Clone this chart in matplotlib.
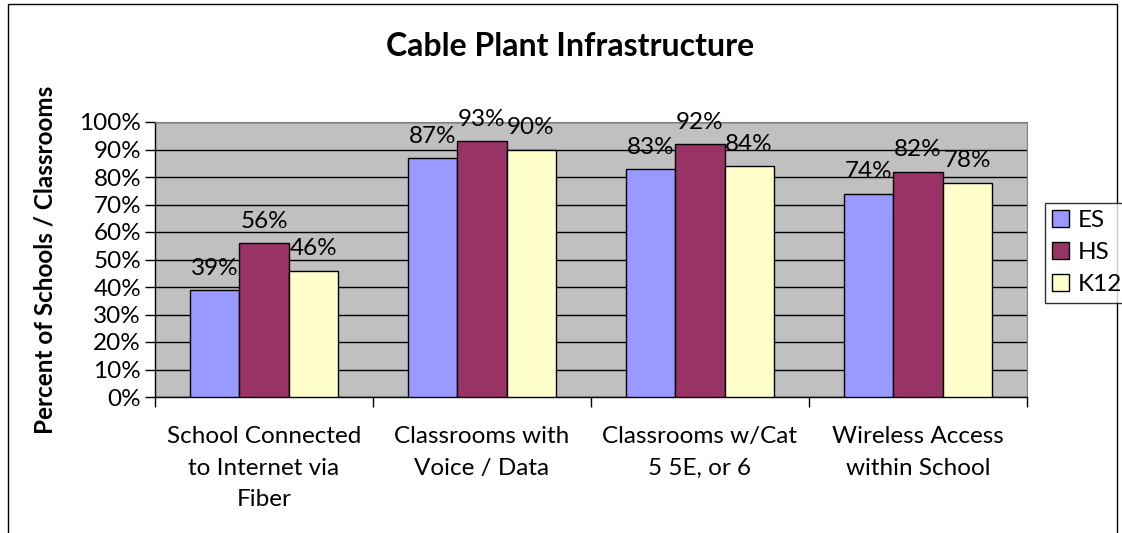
import matplotlib
matplotlib.use("Agg")
import matplotlib.pyplot as plt
import numpy as np
from matplotlib.patches import Rectangle
from matplotlib.ticker import FixedLocator, NullFormatter

categories = ["School Connected\nto Internet via\nFiber", "Classrooms with\nVoice / Data",
              "Classrooms w/Cat\n5 5E, or 6", "Wireless Access\nwithin School"]
series_names = ["ES", "HS", "K12"]
es = [39, 87, 83, 74]
hs = [56, 93, 92, 82]
k12 = [46, 90, 84, 78]
colors = ["#9999FF", "#993366", "#FFFFCC"]

plt.rcParams['font.family'] = ['Lato', 'DejaVu Sans']
FS = 17.5

fig = plt.figure(figsize=(11.22, 5.33), dpi=100)
ax = fig.add_axes([155/1122, 1-397/533, (1027-155)/1122, (397-122)/533])
ax.set_facecolor("#C0C0C0")

x = np.arange(len(categories))
w = 0.225
for i, (vals, name, c) in enumerate(zip([es, hs, k12], series_names, colors)):
    pos = x + (i - 1) * w
    ax.bar(pos, vals, width=w, color=c, edgecolor="black", linewidth=1, label=name, zorder=3)
    for p, v in zip(pos, vals):
        ax.text(p, v + 5.5, f"{v}%", ha="center", va="baseline", fontsize=FS, zorder=4)

ax.set_xlim(-0.5, len(categories) - 0.5)
ax.set_ylim(0, 100)
ax.set_yticks(np.arange(0, 101, 10))
ax.set_yticklabels([f"{t}%" for t in range(0, 101, 10)], fontsize=FS)
ax.yaxis.grid(True, color="black", linewidth=1, zorder=1)
ax.set_axisbelow(True)

ax.xaxis.set_major_locator(FixedLocator(np.arange(-0.5, len(categories), 1.0)))
ax.xaxis.set_major_formatter(NullFormatter())
ax.set_xticks(x, minor=True)
ax.set_xticklabels(categories, minor=True, fontsize=FS, linespacing=1.62)
ax.tick_params(axis="x", which="minor", length=0, pad=21)
ax.tick_params(axis="x", which="major", length=7, direction="out", width=1)
ax.tick_params(axis="y", length=7, direction="out", width=1, pad=3)

ax.spines["left"].set_linewidth(1)
ax.spines["bottom"].set_linewidth(1)
ax.spines["top"].set_color("#808080")
ax.spines["right"].set_color("#808080")

ax.set_ylabel("Percent of Schools / Classrooms", fontsize=FS, fontweight="bold")
ax.yaxis.set_label_coords(-0.113, 0.5)

fig.text(570/1122, 1-47/533, "Cable Plant Infrastructure", ha="center", va="center",
         fontsize=23, fontweight="bold")

leg = fig.legend(loc="upper left", bbox_to_anchor=(1045/1122, 1-203/533), fontsize=FS,
                 frameon=True, fancybox=False, edgecolor="black", handlelength=0.7,
                 handleheight=0.7, handletextpad=0.35, borderpad=0.3, labelspacing=0.45,
                 borderaxespad=0)
leg.get_frame().set_linewidth(1)

fig.patches.append(Rectangle((8/1122, -0.1), (1117-8)/1122, 1.1 - 4/533, transform=fig.transFigure,
                             fill=False, edgecolor="black", linewidth=1))

fig.savefig("out.png", dpi=100)
